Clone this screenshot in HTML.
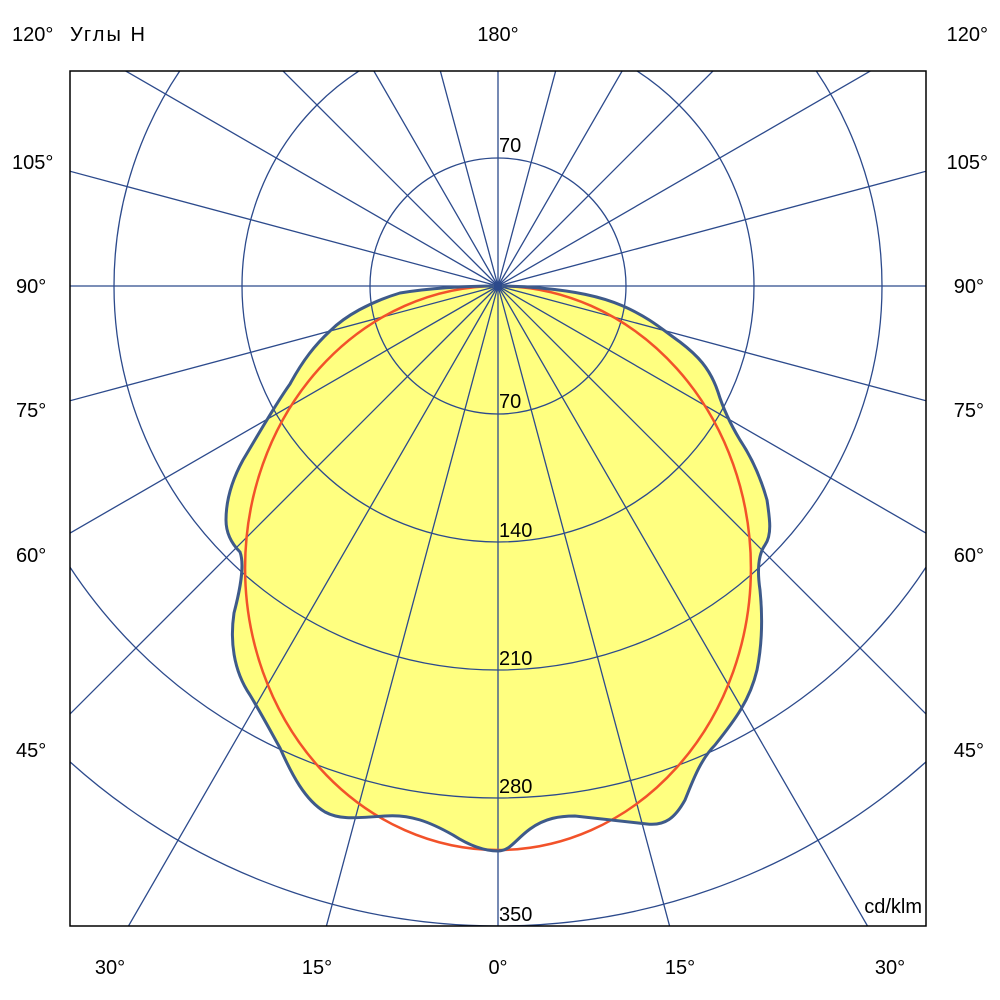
<!DOCTYPE html>
<html><head><meta charset="utf-8"><style>
html,body{margin:0;padding:0;background:#fff;overflow:hidden;width:1000px;height:1000px;}
svg{display:block;font-family:"Liberation Sans","DejaVu Sans",sans-serif;}
</style></head><body>
<svg width="1000" height="1000" viewBox="0 0 1000 1000">
<defs><clipPath id="c"><rect x="70" y="71" width="856" height="855"/></clipPath></defs>
<g clip-path="url(#c)">
<path d="M498,286 C470,286 437,287 400,293 C370,302 345,316 330,331 C315,345 303,360 290,384 C275,405 258,435 243,460 C232,480 226,500 226,520 C226,535 233,545 240,552 C245,565 240,590 234,613 C230,640 233,670 250,695 C262,715 270,730 280,748 C292,775 305,800 325,812 C340,820 355,818 385,816 C410,814 430,822 453,835 C470,846 485,851 498,851 C510,851 515,840 530,829 C545,818 560,816 575,816 C595,818 620,821 647,824 C665,826 675,818 685,800 C692,783 700,760 715,745 C735,720 750,700 757,670 C763,640 762,610 760,590 C757,570 758,555 765,545 C772,535 770,520 767,500 C760,475 750,455 740,440 C728,420 722,405 718,392 C710,368 697,355 680,342 C663,330 650,318 623,306 C600,296 573,291 540,288 C520,286 505,286 498,286 Z" fill="#ffff80" stroke="none"/>
<g stroke="#2c4a8c" stroke-width="1.3" fill="none">
<circle cx="498" cy="286" r="128"/><circle cx="498" cy="286" r="256"/><circle cx="498" cy="286" r="384"/><circle cx="498" cy="286" r="512"/><circle cx="498" cy="286" r="640"/>
<line x1="498" y1="286" x2="1498" y2="286"/>
<line x1="498" y1="286" x2="1464" y2="545"/>
<line x1="498" y1="286" x2="1364" y2="786"/>
<line x1="498" y1="286" x2="1205" y2="993"/>
<line x1="498" y1="286" x2="998" y2="1152"/>
<line x1="498" y1="286" x2="757" y2="1252"/>
<line x1="498" y1="286" x2="498" y2="1286"/>
<line x1="498" y1="286" x2="239" y2="1252"/>
<line x1="498" y1="286" x2="-2" y2="1152"/>
<line x1="498" y1="286" x2="-209" y2="993"/>
<line x1="498" y1="286" x2="-368" y2="786"/>
<line x1="498" y1="286" x2="-468" y2="545"/>
<line x1="498" y1="286" x2="-502" y2="286"/>
<line x1="498" y1="286" x2="-468" y2="27"/>
<line x1="498" y1="286" x2="-368" y2="-214"/>
<line x1="498" y1="286" x2="-209" y2="-421"/>
<line x1="498" y1="286" x2="-2" y2="-580"/>
<line x1="498" y1="286" x2="239" y2="-680"/>
<line x1="498" y1="286" x2="498" y2="-714"/>
<line x1="498" y1="286" x2="757" y2="-680"/>
<line x1="498" y1="286" x2="998" y2="-580"/>
<line x1="498" y1="286" x2="1205" y2="-421"/>
<line x1="498" y1="286" x2="1364" y2="-214"/>
<line x1="498" y1="286" x2="1464" y2="27"/>
</g>
<path d="M498,286 A253,282 0 0 1 498,850 A253,282 0 0 1 498,286 Z" fill="none" stroke="#f2522a" stroke-width="2.5"/>
<path d="M498,286 C470,286 437,287 400,293 C370,302 345,316 330,331 C315,345 303,360 290,384 C275,405 258,435 243,460 C232,480 226,500 226,520 C226,535 233,545 240,552 C245,565 240,590 234,613 C230,640 233,670 250,695 C262,715 270,730 280,748 C292,775 305,800 325,812 C340,820 355,818 385,816 C410,814 430,822 453,835 C470,846 485,851 498,851 C510,851 515,840 530,829 C545,818 560,816 575,816 C595,818 620,821 647,824 C665,826 675,818 685,800 C692,783 700,760 715,745 C735,720 750,700 757,670 C763,640 762,610 760,590 C757,570 758,555 765,545 C772,535 770,520 767,500 C760,475 750,455 740,440 C728,420 722,405 718,392 C710,368 697,355 680,342 C663,330 650,318 623,306 C600,296 573,291 540,288 C520,286 505,286 498,286 Z" fill="none" stroke="#3e5a8a" stroke-width="3"/>
<circle cx="498" cy="286" r="4" fill="#2c4a8c"/>
</g>
<rect x="70" y="71" width="856" height="855" fill="none" stroke="#000" stroke-width="1.5"/>
<g font-size="20" fill="#000">
<text x="12" y="41">120°</text>
<text x="70" y="41" textLength="75">Углы H</text>
<text x="498" y="41" text-anchor="middle">180°</text>
<text x="988" y="41" text-anchor="end">120°</text>
<text x="12" y="169">105°</text><text x="988" y="169" text-anchor="end">105°</text>
<text x="16" y="293">90°</text><text x="984" y="293" text-anchor="end">90°</text>
<text x="16" y="417">75°</text><text x="984" y="417" text-anchor="end">75°</text>
<text x="16" y="562">60°</text><text x="984" y="562" text-anchor="end">60°</text>
<text x="16" y="757">45°</text><text x="984" y="757" text-anchor="end">45°</text>
<text x="110" y="974" text-anchor="middle">30°</text>
<text x="317" y="974" text-anchor="middle">15°</text>
<text x="498" y="974" text-anchor="middle">0°</text>
<text x="680" y="974" text-anchor="middle">15°</text>
<text x="890" y="974" text-anchor="middle">30°</text>
<text x="499" y="152">70</text>
<text x="499" y="408">70</text>
<text x="499" y="537">140</text>
<text x="499" y="665">210</text>
<text x="499" y="793">280</text>
<text x="499" y="921">350</text>
<text x="922" y="913" text-anchor="end">cd/klm</text>
</g>
</svg>
</body></html>
